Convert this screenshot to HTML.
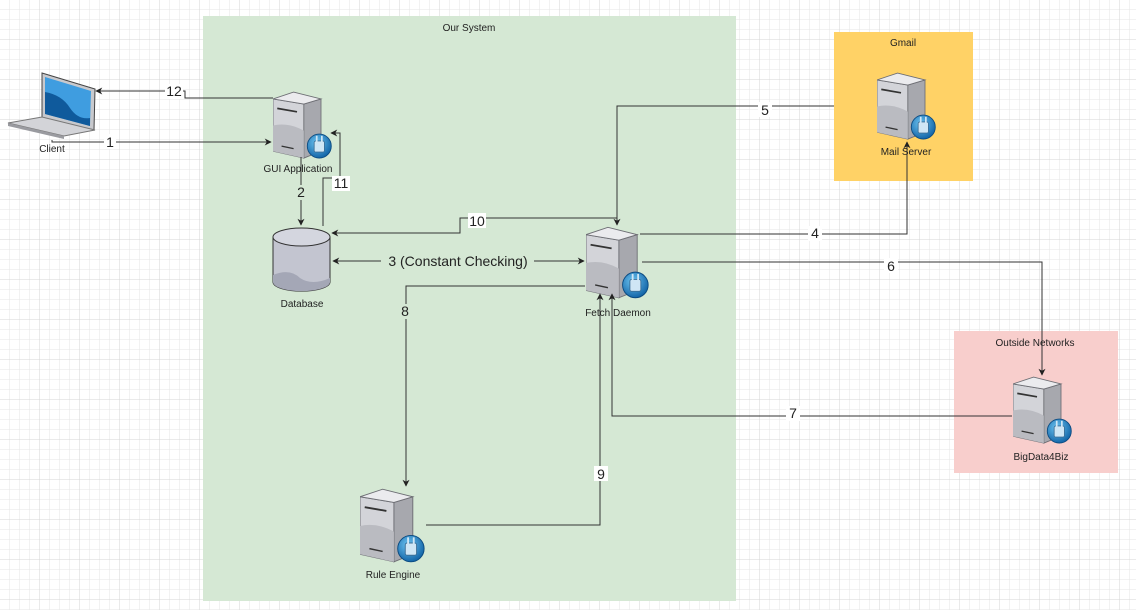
<!DOCTYPE html>
<html><head><meta charset="utf-8"><style>
html,body{margin:0;padding:0;background:#fff;}
svg{display:block;font-family:"Liberation Sans",Arial,sans-serif;}
</style></head><body>
<svg width="1136" height="610" viewBox="0 0 1136 610" xmlns="http://www.w3.org/2000/svg">
<defs>
<pattern id="g" width="10" height="10" patternUnits="userSpaceOnUse"><path d="M10 0V10H0" fill="none" stroke="#e6e6e6" stroke-width="1"/></pattern>
<pattern id="G" width="40" height="40" patternUnits="userSpaceOnUse"><path d="M40 0V40H0" fill="none" stroke="#d6d6d6" stroke-width="1"/></pattern>
<marker id="a" viewBox="0 0 10 10" refX="9" refY="5" markerWidth="7" markerHeight="7" orient="auto-start-reverse"><path d="M0,0L10,5L0,10L3,5Z" fill="#222"/></marker>
<radialGradient id="gl" cx="0.4" cy="0.35" r="0.7"><stop offset="0" stop-color="#6cc3f0"/><stop offset="1" stop-color="#0d5fa3"/></radialGradient>
<symbol id="srv" viewBox="0 0 70 80">
<polygon points="0,9 36,15 36,78 0,70" fill="#d3d4d9" stroke="#6d6e74" stroke-width="1"/>
<polygon points="36,15 56,9 56,70 36,78" fill="#a7a8ae" stroke="#6d6e74" stroke-width="1"/>
<polygon points="0,9 24,1 56,9 36,15" fill="#ebebee" stroke="#6d6e74" stroke-width="1"/>
<path d="M0,40 Q18,36 36,46 L36,78 L0,70Z" fill="#babbc1"/>
<line x1="5" y1="20" x2="28" y2="24" stroke="#333" stroke-width="2"/>
<line x1="10" y1="64" x2="24" y2="67" stroke="#333" stroke-width="1.5"/>
<circle cx="54" cy="64" r="14" fill="url(#gl)" stroke="#0b4a80" stroke-width="1"/>
<rect x="48" y="58" width="12" height="13" rx="2" fill="#cfe6f5" stroke="#3b6e96" stroke-width="1"/>
<line x1="51" y1="52" x2="51" y2="59" stroke="#cfe6f5" stroke-width="2"/>
<line x1="57" y1="52" x2="57" y2="59" stroke="#cfe6f5" stroke-width="2"/>
</symbol>
</defs>
<rect width="1136" height="610" fill="url(#g)"/>
<rect width="1136" height="610" fill="url(#G)"/>

<rect x="203" y="16" width="533" height="585" fill="#d5e8d4"/>
<text x="469" y="31" font-size="10" text-anchor="middle" fill="#222">Our System</text>
<rect x="834" y="32" width="139" height="149" fill="#ffd266"/>
<text x="903" y="46" font-size="10" text-anchor="middle" fill="#222">Gmail</text>
<rect x="954" y="331" width="164" height="142" fill="#f8cecc"/>
<text x="1035" y="346" font-size="10" text-anchor="middle" fill="#222">Outside Networks</text>

<!-- laptop -->
<polygon points="42,73 95,89 94,130 42,118" fill="#c8c9cd" stroke="#444" stroke-width="1"/>
<polygon points="45,77 91,91 90,126 45,114" fill="#3f9de0"/>
<path d="M45,92 Q62,95 70,108 Q78,120 90,118 L90,126 L45,114Z" fill="#0f5a9c"/>
<polygon points="8,123 42,117 95,130 64,136" fill="#d3d4d8" stroke="#777" stroke-width="1"/>
<polygon points="8,123 64,136 64,139 8,126" fill="#9a9ba0"/>
<text x="52" y="152" font-size="10" text-anchor="middle" fill="#222">Client</text>

<!-- servers -->
<use href="#srv" x="273" y="91" width="60" height="69"/>
<text x="298" y="172" font-size="10" text-anchor="middle" fill="#222">GUI Application</text>
<use href="#srv" x="586" y="226" width="64" height="74"/>
<text x="618" y="316" font-size="10" text-anchor="middle" fill="#222">Fetch Daemon</text>
<use href="#srv" x="877" y="72" width="60" height="69"/>
<text x="906" y="155" font-size="10" text-anchor="middle" fill="#222">Mail Server</text>
<use href="#srv" x="1013" y="376" width="60" height="69"/>
<text x="1041" y="460" font-size="10" text-anchor="middle" fill="#222">BigData4Biz</text>
<use href="#srv" x="360" y="488" width="66" height="76"/>
<text x="393" y="578" font-size="10" text-anchor="middle" fill="#222">Rule Engine</text>

<!-- database -->
<path d="M273,237 L273,282 A28,9 0 0 0 330,282 L330,237" fill="#c3c5d0" stroke="#333" stroke-width="1"/>
<path d="M273,275 Q290,268 300,278 Q312,286 330,278 L330,282 A28,9 0 0 1 273,282Z" fill="#a4a7b6"/>
<ellipse cx="301.5" cy="237" rx="28.5" ry="9" fill="#d4d6df" stroke="#333" stroke-width="1"/>
<text x="302" y="307" font-size="10" text-anchor="middle" fill="#222">Database</text>

<!-- connectors -->
<g fill="none" stroke="#333" stroke-width="1">
<polyline points="273,98 185,98 185,91 96,91" marker-end="url(#a)"/>
<polyline points="52,140 52,142 271,142" marker-end="url(#a)"/>
<polyline points="301,157 301,225" marker-end="url(#a)"/>
<polyline points="323,226 323,178 340,178 340,133 331,133" marker-end="url(#a)"/>
<polyline points="617,218 460,218 460,233 332,233" marker-end="url(#a)"/>
<polyline points="333,261 584,261" marker-start="url(#a)" marker-end="url(#a)"/>
<polyline points="834,106 617,106 617,225" marker-end="url(#a)"/>
<polyline points="640,234 907,234 907,142" marker-end="url(#a)"/>
<polyline points="642,262 1042,262 1042,375" marker-end="url(#a)"/>
<polyline points="1012,416 612,416 612,294" marker-end="url(#a)"/>
<polyline points="585,286 406,286 406,486" marker-end="url(#a)"/>
<polyline points="426,525 600,525 600,294" marker-end="url(#a)"/>
</g>
<g font-size="14" text-anchor="middle" fill="#222">
<rect x="165" y="84" width="18" height="15" fill="#fff"/><text x="174" y="96">12</text>
<rect x="104" y="134" width="12" height="15" fill="#fff"/><text x="110" y="147">1</text>
<rect x="294" y="185" width="14" height="15" fill="#d5e8d4"/><text x="301" y="197">2</text>
<rect x="332" y="176" width="18" height="15" fill="#fff"/><text x="341" y="188">11</text>
<rect x="468" y="213" width="18" height="15" fill="#fff"/><text x="477" y="226">10</text>
<rect x="381" y="253" width="153" height="16" fill="#d5e8d4"/><text x="458" y="266">3 (Constant Checking)</text>
<rect x="758" y="102" width="14" height="15" fill="#fff"/><text x="765" y="115">5</text>
<rect x="808" y="226" width="14" height="15" fill="#fff"/><text x="815" y="238">4</text>
<rect x="884" y="258" width="14" height="15" fill="#fff"/><text x="891" y="271">6</text>
<rect x="786" y="406" width="14" height="15" fill="#fff"/><text x="793" y="418">7</text>
<rect x="398" y="304" width="14" height="15" fill="#d5e8d4"/><text x="405" y="316">8</text>
<rect x="594" y="466" width="14" height="15" fill="#fff"/><text x="601" y="479">9</text>
</g>
</svg>
</body></html>
